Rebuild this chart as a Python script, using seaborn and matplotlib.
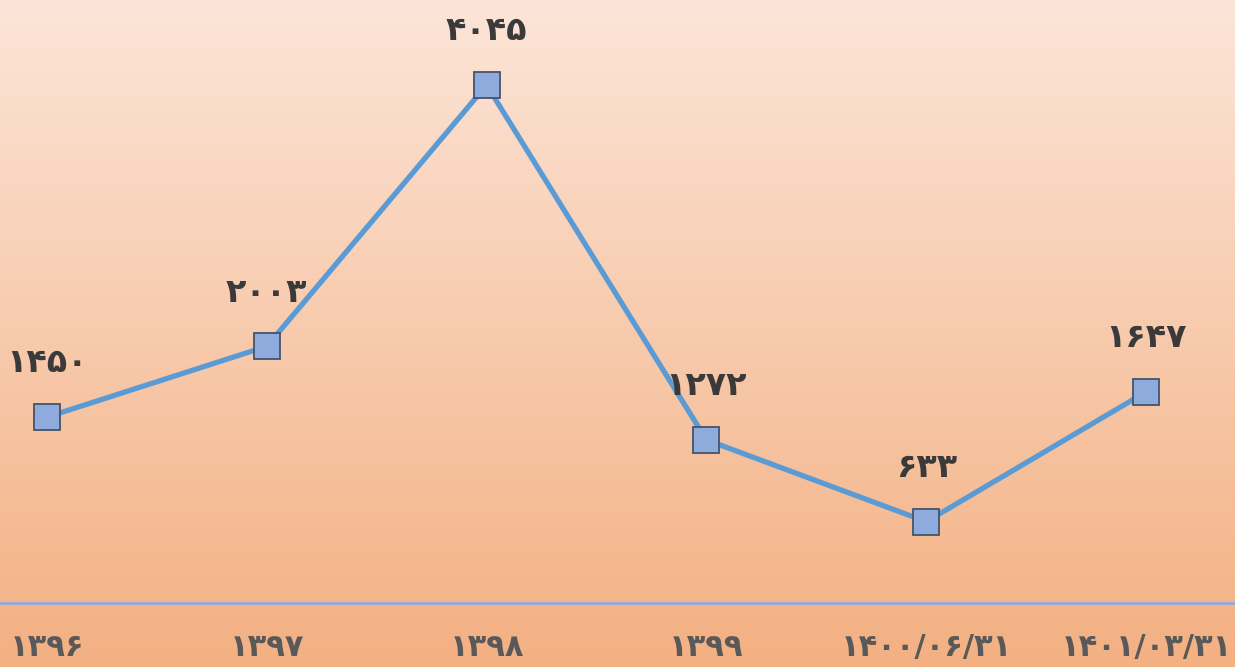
import numpy as np
import matplotlib
matplotlib.use('Agg')
import matplotlib.pyplot as plt
import seaborn as sns
from matplotlib.colors import LinearSegmentedColormap

periods = ['۱۳۹۶', '۱۳۹۷', '۱۳۹۸', '۱۳۹۹', '۱۴۰۰/۰۶/۳۱', '۱۴۰۱/۰۳/۳۱']
values = [1450, 2003, 4045, 1272, 633, 1647]
value_labels = ['۱۴۵۰', '۲۰۰۳', '۴۰۴۵', '۱۲۷۲', '۶۳۳', '۱۶۴۷']


def draw_chart():
    sns.set_style('white')
    plt.rcParams['font.family'] = ['DejaVu Sans']

    fig = plt.figure(figsize=(12.35, 6.67), dpi=100)
    ax = fig.add_axes([0, 0, 1, 1])

    xlim = (-0.2136, 5.4045)
    ylim = (-503, 4710)

    # vertical gradient background
    grad = LinearSegmentedColormap.from_list('bg', ['#F3B082', '#FCE5D8'])
    ax.imshow(np.linspace(0, 1, 256).reshape(-1, 1), cmap=grad, origin='lower',
              extent=[xlim[0], xlim[1], ylim[0], ylim[1]], aspect='auto', zorder=0)

    ax.axhline(0, color='#8FAADC', lw=2, zorder=1)

    x = np.arange(len(values))
    sns.lineplot(x=x, y=values, ax=ax, color='#5B9BD5', lw=3.8, marker='s',
                 markersize=19, markerfacecolor='#8FAADC', markeredgecolor='#44546A',
                 markeredgewidth=1.3, zorder=3)

    for xi, v, lab in zip(x, values, value_labels):
        ax.annotate(lab, (xi, v), xytext=(0, 39), textcoords='offset points',
                    ha='center', va='center', fontsize=24, fontweight='bold',
                    color='#3A3A3A', zorder=4)

    # category labels below the zero line
    for xi, lab in zip(x, periods):
        ax.text(xi, -350, lab, ha='center', va='center', fontsize=22,
                fontweight='bold', color='#595959', zorder=4)

    ax.set_xlim(*xlim)
    ax.set_ylim(*ylim)
    ax.axis('off')

    fig.savefig('out.png', dpi=100)


if __name__ == '__main__':
    draw_chart()
